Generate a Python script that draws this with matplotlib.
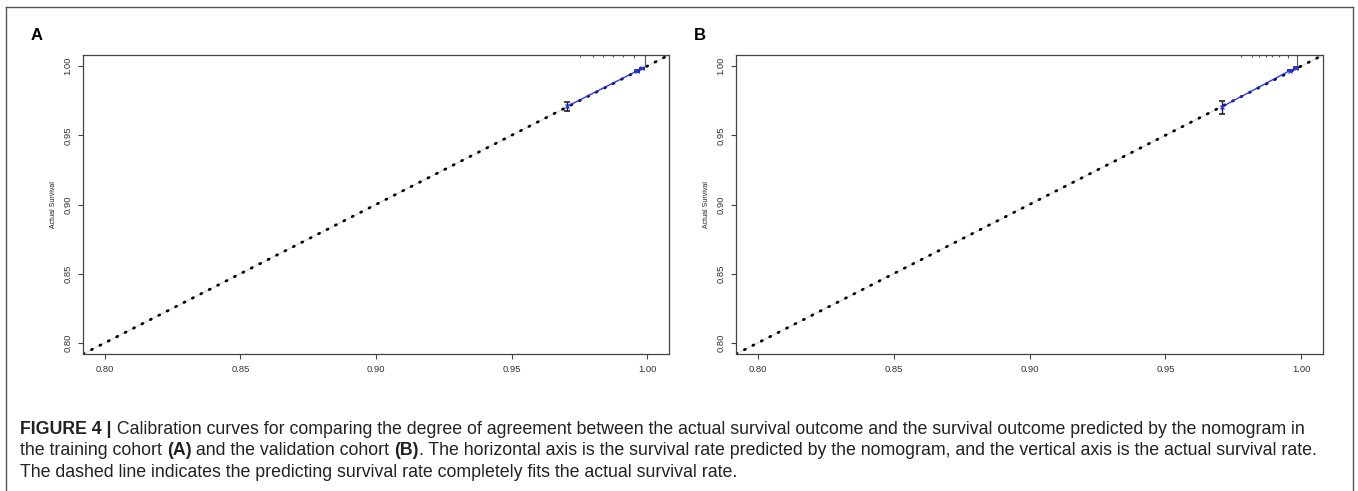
import matplotlib
matplotlib.use("Agg")
import matplotlib.pyplot as plt
from matplotlib.lines import Line2D

plt.rcParams['font.family'] = ['Liberation Sans', 'DejaVu Sans']

############### Data ###############
ticks = [0.80, 0.85, 0.90, 0.95, 1.00]
tick_labels = ["0.80", "0.85", "0.90", "0.95", "1.00"]
lims = (0.792, 1.008)
ideal = [0.792, 1.008]

# panel A - training cohort
a_pred = [0.9705, 0.9962, 0.9982]
a_obs = [0.9710, 0.9965, 0.9984]
a_lo = [0.9675, 0.9956, 0.9979]
a_hi = [0.9740, 0.9972, 0.9989]
a_rug_x = [0.9753, 0.9800, 0.9838, 0.9875, 0.9910, 0.9952, 0.9993]
a_rug_h = [1, 1, 1, 1, 1, 1.4, 4.6]

# panel B - validation cohort
b_pred = [0.9708, 0.9958, 0.9980]
b_obs = [0.9705, 0.9968, 0.9986]
b_lo = [0.9655, 0.9961, 0.9981]
b_hi = [0.9745, 0.9975, 0.9991]
b_rug_x = [0.9780, 0.9820, 0.9846, 0.9870, 0.9893, 0.9919, 0.9950, 0.9985]
b_rug_h = [1, 1, 1, 1, 1, 1, 1.4, 4.6]

caption = [
    [("FIGURE 4 |", "bold"),
     (" Calibration curves for comparing the degree of agreement between the actual survival outcome and the survival outcome predicted by the nomogram in", "normal")],
    [("the training cohort ", "normal"), ("(A)", "bold"), (" and the validation cohort ", "normal"), ("(B)", "bold"),
     (". The horizontal axis is the survival rate predicted by the nomogram, and the vertical axis is the actual survival rate.", "normal")],
    [("The dashed line indicates the predicting survival rate completely fits the actual survival rate.", "normal")],
]

W, H = 1358, 491
fig = plt.figure(figsize=(W / 100, H / 100), dpi=100)

AXC = "#444444"


def calib_panel(rect, pred, obs, lo, hi, rug_x, rug_h):
    ax = fig.add_axes(rect)
    ax.set_xlim(lims)
    ax.set_ylim(lims)
    # ideal line (faint) + dotted reference line
    ax.plot(ideal, ideal, color="#d0d0d0", lw=0.6, zorder=1)
    ax.plot(ideal, ideal, color="black", lw=2.0, linestyle=(0, (0.4, 3.0)),
            dash_capstyle="round", zorder=2)
    # top rug of predicted values
    for x, h in zip(rug_x, rug_h):
        ax.vlines(x, 1 - 0.008 * h, 1, color="#555555", lw=0.8,
                  transform=ax.get_xaxis_transform(), zorder=2)
    # error bars
    ax.errorbar(pred, obs, yerr=[[o - l for o, l in zip(obs, lo)], [h - o for o, h in zip(obs, hi)]],
                fmt="none", ecolor="#222222", elinewidth=1.0, capsize=2.5, capthick=1.2, zorder=3)
    # calibration curve
    ax.plot(pred, obs, color="#2233ff", lw=0.9, marker="x", ms=3.5, mew=0.9, zorder=4)

    ax.set_xticks(ticks)
    ax.set_xticklabels(tick_labels)
    ax.set_yticks(ticks)
    ax.set_yticklabels(tick_labels, rotation=90, va="center")
    ax.tick_params(length=3.6, width=0.8, color=AXC, labelsize=6.8,
                   labelcolor="#333333", pad=4.2)
    for s in ax.spines.values():
        s.set_color(AXC)
        s.set_linewidth(0.9)
    ax.set_ylabel("Actual Survival", fontsize=5, color="#222222")
    ax.yaxis.set_label_coords(-0.044, 0.5)
    return ax


calib_panel([83 / W, 137 / H, 586 / W, 299 / H], a_pred, a_obs, a_lo, a_hi, a_rug_x, a_rug_h)
calib_panel([736 / W, 137 / H, 587 / W, 299 / H], b_pred, b_obs, b_lo, b_hi, b_rug_x, b_rug_h)

# panel letters
fig.text(31 / W, 1 - 40 / H, "A", fontsize=12, fontweight="bold")
fig.text(694 / W, 1 - 40 / H, "B", fontsize=12, fontweight="bold")

# outer frame
frame_c = "#555555"
fig.add_artist(Line2D([6 / W, 6 / W], [0, 1 - 7 / H], color=frame_c, lw=1.0))
fig.add_artist(Line2D([6 / W, 1353 / W], [1 - 7 / H, 1 - 7 / H], color=frame_c, lw=1.0))
fig.add_artist(Line2D([1353 / W, 1353 / W], [0, 1 - 7 / H], color=frame_c, lw=1.0))

############### Caption ###############
renderer = fig.canvas.get_renderer()


def line_width(pieces, size):
    total = 0
    for txt, wt in pieces:
        t = fig.text(0, 0, txt, fontsize=size, fontweight=wt)
        total += t.get_window_extent(renderer).width
        t.remove()
    return total


# reference uses a condensed face; stretch size to match line length
cap_size = 11 * 1315 / line_width(caption[0], 11)
cap_size = min(cap_size, 12.8)
baselines = [434, 455, 477]
for pieces, yb in zip(caption, baselines):
    x = 20
    for txt, wt in pieces:
        t = fig.text(x / W, 1 - yb / H, txt, fontsize=cap_size, fontweight=wt,
                     color="#222222", va="baseline")
        x += t.get_window_extent(renderer).width

fig.savefig("out.png", dpi=100)
